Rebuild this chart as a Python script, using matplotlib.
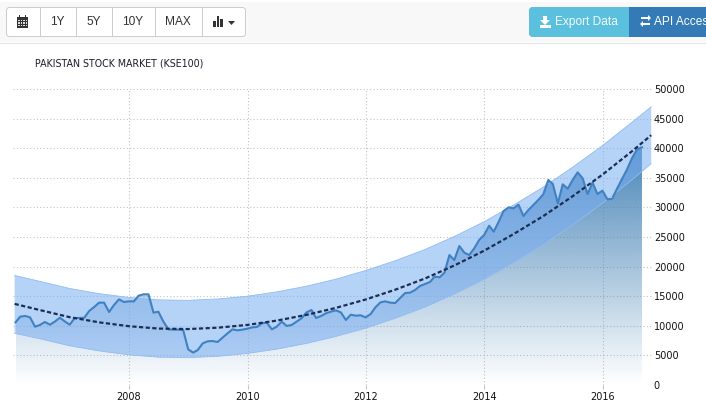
import numpy as np
import pandas as pd
import matplotlib
matplotlib.use("Agg")
import matplotlib.pyplot as plt
import matplotlib.dates as mdates
from matplotlib.patches import Rectangle, FancyBboxPatch, Polygon

W, H = 706, 416

# monthly index level, Jan 2006 to Aug 2016
kse_values = [
    10590, 11540, 11660, 11430, 9850, 10140, 10640, 10190, 10700, 11370, 10750, 10190,
    11320, 11320, 11370, 12500, 13180, 13910, 13910, 12330, 13510, 14470, 14020, 14130,
    14130, 15090, 15320, 15320, 12220, 12380, 10700, 9400, 9350, 9350, 9290, 6020,
    5460, 5910, 7040, 7380, 7430, 7260, 7990, 8730, 9400, 9230, 9350, 9510,
    9740, 9800, 10420, 10530, 9400, 9850, 10700, 9970, 10140, 10700, 11260, 12270,
    12670, 11320, 11660, 12110, 12390, 12610, 12270, 10980, 11880, 11710, 11770, 11430,
    11990, 13120, 13960, 14130, 13910, 13850, 14700, 15540, 15600, 16050, 16720, 17060,
    17400, 18300, 18190, 18970, 21960, 21110, 23480, 22350, 21960, 23090, 24490, 25340,
    26910, 25900, 27590, 29390, 30010, 29840, 30460, 28550, 29560, 30410, 31250, 32210,
    34630, 33950, 30690, 33900, 33160, 34630, 35920, 34910, 32260, 34180, 32260, 32830,
    31360, 31470, 33220, 34800, 36430, 38290, 39810, 40150,
]
kse_dates = pd.date_range("2006-01-31", periods=len(kse_values), freq="ME")

# trend line and its band, read every half year
trend_dates = pd.to_datetime([
    "2006-01-25", "2006-07-01", "2007-01-01", "2007-07-01", "2008-01-01", "2008-07-01",
    "2009-01-01", "2009-07-01", "2010-01-01", "2010-07-01", "2011-01-01", "2011-07-01",
    "2012-01-01", "2012-07-01", "2013-01-01", "2013-07-01", "2014-01-01", "2014-07-01",
    "2015-01-01", "2015-07-01", "2016-01-01", "2016-07-01", "2016-10-27",
])
trend = [13700, 12650, 11450, 10580, 9930, 9530, 9450, 9680, 10150, 10880, 11850, 13030,
         14450, 16100, 18000, 20200, 22700, 25500, 28550, 31900, 35550, 39500, 42200]
upper = [18500, 17500, 16300, 15430, 14780, 14380, 14300, 14530, 15000, 15730, 16700, 17880,
         19350, 21000, 22900, 25100, 27600, 30400, 33450, 36800, 40450, 44400, 47000]
lower = [8730, 7800, 6620, 5750, 5100, 4700, 4620, 4850, 5330, 6060, 7030, 8210,
         9600, 11270, 13170, 15370, 17870, 20670, 23720, 27070, 30720, 34670, 37400]

xticks = [2008, 2010, 2012, 2014, 2016]
yticks = [0, 5000, 10000, 15000, 20000, 25000, 30000, 35000, 40000, 45000, 50000]

plt.rcParams['font.family'] = ['DejaVu Sans']
fig = plt.figure(figsize=(W / 100, H / 100), dpi=100, facecolor='white')

# plot area, 2008 sits at x=129 and one year is 59.2 px
left, right, top, bottom = 13, 653, 89, 385
ax = fig.add_axes([left / W, 1 - bottom / H, (right - left) / W, (bottom - top) / H])
ax.set_facecolor('none')
x0 = mdates.date2num(pd.Timestamp("2006-01-15"))
x1 = mdates.date2num(pd.Timestamp("2016-11-07"))

# area under the line, fades out to the bottom
area = ax.fill_between(kse_dates, kse_values, 0, color='none', lw=0)
grad = np.zeros((256, 2, 4))
grad[..., :3] = matplotlib.colors.to_rgb('#4a86b8')
grad[..., 3] = np.linspace(1, 0, 256)[:, None]
im = ax.imshow(grad, aspect='auto', zorder=1,
               extent=[mdates.date2num(kse_dates[0]), mdates.date2num(kse_dates[-1]), 0, max(kse_values)])
im.set_clip_path(area.get_paths()[0], transform=ax.transData)

ax.fill_between(trend_dates, lower, upper, facecolor='#78adf2', alpha=0.55,
                edgecolor='none', zorder=2)
ax.plot(trend_dates, upper, color='#8fbcf3', lw=0.6, zorder=2)
ax.plot(trend_dates, lower, color='#8fbcf3', lw=0.6, zorder=2)
ax.plot(kse_dates, kse_values, color='#3f81c2', lw=1.5, zorder=3, solid_joinstyle='round')
ax.plot(trend_dates, trend, color='#1b2f55', lw=1.6, dashes=(1.9, 1.1), zorder=4)

ax.set_xlim(x0, x1)
ax.set_ylim(0, 50000)
ax.set_xticks([mdates.date2num(pd.Timestamp(f"{y}-01-01")) for y in xticks])
ax.set_xticklabels([str(y) for y in xticks])
ax.set_yticks(yticks)
ax.yaxis.tick_right()
ax.grid(True, color='#c4c4c4', lw=0.8, linestyle=(0, (1, 2)), zorder=0)
ax.set_axisbelow(True)
for s in ax.spines.values():
    s.set_visible(False)
ax.tick_params(axis='x', length=3, width=0.8, color='#c4c4c4', labelsize=7, pad=2, labelcolor='#111111')
ax.tick_params(axis='y', length=0, labelsize=7, pad=0.6, labelcolor='#111111')

# page chrome above the chart, in pixel coordinates
ui = fig.add_axes([0, 0, 1, 1], zorder=5)
ui.set_xlim(0, W)
ui.set_ylim(H, 0)
ui.axis('off')
ui.patch.set_alpha(0)

ui.add_patch(Rectangle((0, 2), W, 40, fc='#f8f8f8', ec='none'))
ui.plot([0, W], [42.5, 42.5], color='#e3e3e3', lw=0.8)
ui.add_patch(FancyBboxPatch((6.5, 7.5), 239, 29, boxstyle="round,pad=0,rounding_size=3",
                            fc='white', ec='#cccccc', lw=0.7))
for xd in [39.5, 75.5, 111.5, 154.5, 201.5]:
    ui.plot([xd, xd], [8, 36], color='#cccccc', lw=0.7)
for label, xc in [("1Y", 57.5), ("5Y", 93.5), ("10Y", 133), ("MAX", 178)]:
    ui.text(xc, 22, label, ha='center', va='center', fontsize=8.6,
            family='Liberation Sans', color='#333333')

# calendar icon
ui.add_patch(Rectangle((17, 16.5), 11, 11, fc='#333333', ec='none'))
ui.add_patch(Rectangle((19, 15), 1.4, 2.5, fc='#333333', ec='none'))
ui.add_patch(Rectangle((24.6, 15), 1.4, 2.5, fc='#333333', ec='none'))
for gx in [18.2, 20.7, 23.2, 25.7]:
    for gy in [20, 22.3, 24.6]:
        ui.add_patch(Rectangle((gx, gy), 1.3, 1.4, fc='#dddddd', ec='none'))

# chart type icon with caret
for bx, bh in [(213, 6), (216.5, 11), (220, 8)]:
    ui.add_patch(Rectangle((bx, 27 - bh), 2.6, bh, fc='#333333', ec='none'))
ui.add_patch(Polygon([[228, 21], [235, 21], [231.5, 25]], fc='#333333', ec='none'))

# export and api buttons
ui.add_patch(FancyBboxPatch((529.5, 7.5), 104, 29, boxstyle="round,pad=0,rounding_size=3",
                            fc='#5bc0de', ec='#5ab8d8', lw=0.6))
ui.add_patch(Rectangle((629, 7), 77, 30, fc='#337ab7', ec='none'))
ui.add_patch(Polygon([[543, 16], [547, 16], [547, 20], [550, 20], [545, 25], [540, 20], [543, 20]],
                     fc='white', ec='none'))
ui.add_patch(Rectangle((540, 25), 11, 2.5, fc='white', ec='none'))
ui.text(555, 22, "Export Data", ha='left', va='center', fontsize=8.6,
        family='Liberation Sans', color='#f2fafd')
ui.add_patch(Polygon([[641, 17], [648, 17], [648, 15], [651, 18], [648, 21], [648, 19], [641, 19]],
                     fc='white', ec='none'))
ui.add_patch(Polygon([[650, 23], [643, 23], [643, 21], [640, 24], [643, 27], [643, 25], [650, 25]],
                     fc='white', ec='none'))
ui.text(654, 22, "API Access", ha='left', va='center', fontsize=8.6,
        family='Liberation Sans', color='white')

ui.text(35, 63.5, "PAKISTAN STOCK MARKET (KSE100)", ha='left', va='center', fontsize=6.85,
        color='#1c1c2c')

fig.savefig('out.png', dpi=100)
